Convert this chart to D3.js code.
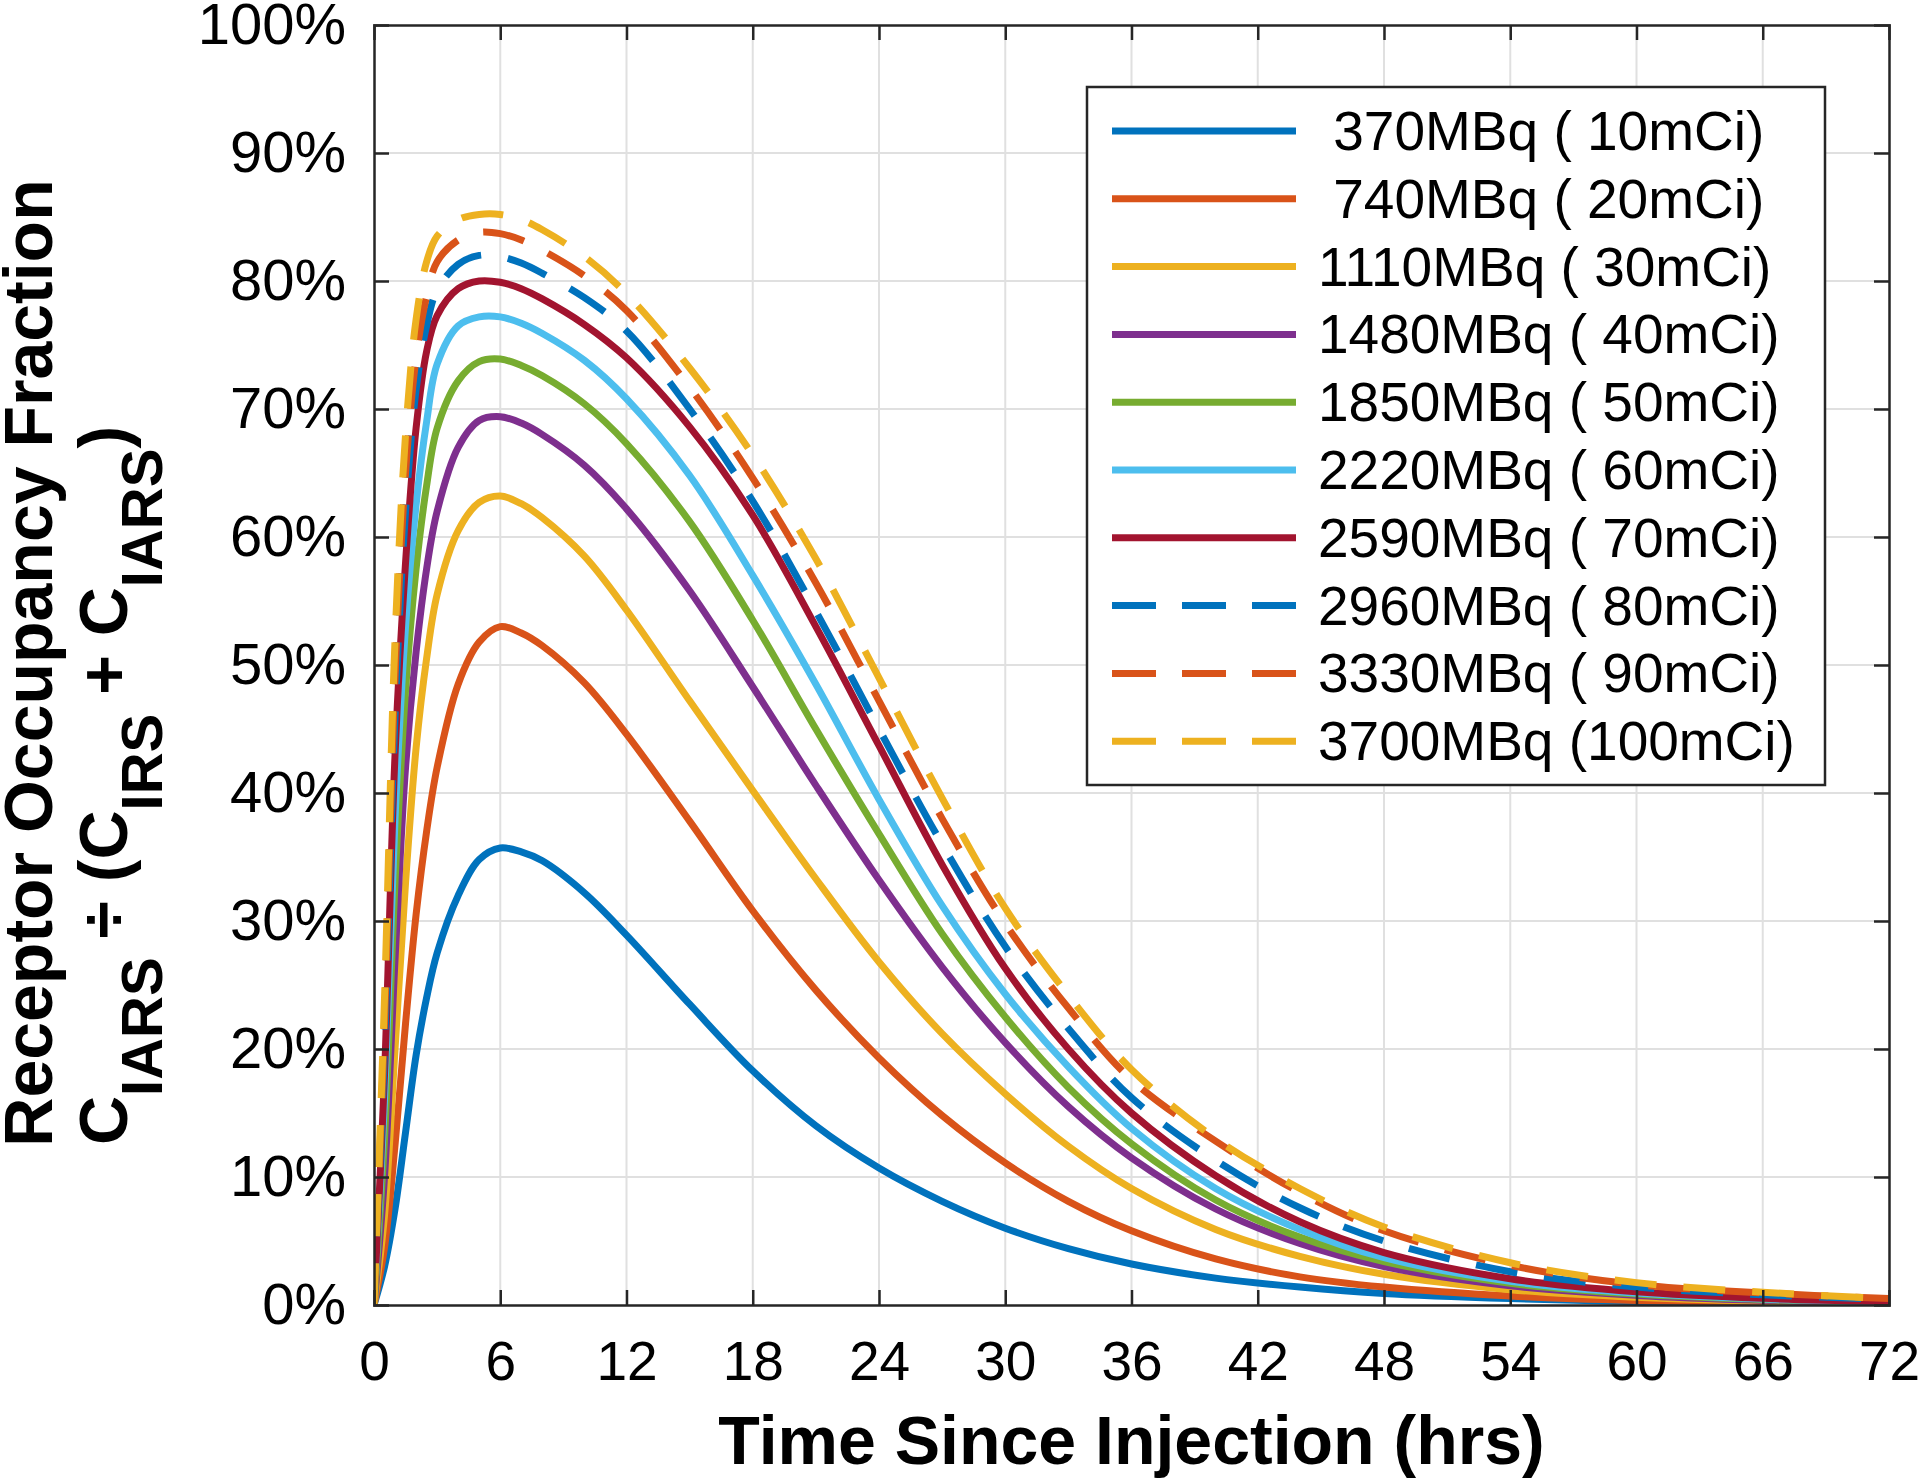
<!DOCTYPE html>
<html><head><meta charset="utf-8">
<script src="https://cdn.jsdelivr.net/npm/d3@7"></script>
<style>
body{margin:0;background:#fff;}
svg{display:block;}
text{font-family:"Liberation Sans",Arial,Helvetica,sans-serif;fill:#000;}
</style>
</head><body>
<svg id="chart" width="1920" height="1482"></svg>
<script>
// ---- data ----
const times = [0, 0.5, 1, 1.5, 2, 2.5, 3, 4, 5, 6, 7, 8, 10, 12, 15, 18, 21, 24, 27, 30, 33, 36, 40, 44, 48, 54, 60, 66, 72];
const seriesLabels = [" 370MBq ( 10mCi)", " 740MBq ( 20mCi)", "1110MBq ( 30mCi)", "1480MBq ( 40mCi)", "1850MBq ( 50mCi)",
  "2220MBq ( 60mCi)", "2590MBq ( 70mCi)", "2960MBq ( 80mCi)", "3330MBq ( 90mCi)", "3700MBq (100mCi)"];
const s10  = [0, 3, 7.5, 13.5, 19.5, 24, 27.5, 32, 34.8, 35.7, 35.4, 34.7, 32.2, 28.9, 23.5, 18.3, 14, 10.7, 8.1, 6, 4.4, 3.2, 2.1, 1.4, 0.9, 0.5, 0.25, 0.12, 0.06];
const s20  = [0, 4.5, 12.5, 22, 30.5, 37, 42, 48.5, 51.8, 53, 52.5, 51.5, 48.6, 44.6, 37.8, 30.8, 24.6, 19.3, 14.8, 11.1, 8.1, 5.8, 3.6, 2.2, 1.4, 0.7, 0.35, 0.18, 0.09];
const s30  = [0, 7, 20, 33, 43.5, 50.5, 55.5, 60.5, 62.7, 63.2, 62.6, 61.5, 58.5, 54.3, 47.2, 40.2, 33.3, 26.8, 21.2, 16.5, 12.4, 9.1, 5.9, 3.8, 2.4, 1.2, 0.6, 0.3, 0.15];
const s40  = [0, 10, 27, 42, 51, 57.5, 62, 67, 69.1, 69.4, 68.9, 68, 65.6, 62.2, 55.8, 48.3, 40.6, 33.2, 26.4, 20.5, 15.5, 11.5, 7.5, 4.8, 3, 1.5, 0.75, 0.37, 0.18];
const s50  = [0, 13, 33, 48, 57.5, 64, 68.5, 72.2, 73.7, 73.9, 73.4, 72.6, 70.4, 67.3, 61.2, 53.5, 45, 36.8, 29, 22.5, 17, 12.6, 8.2, 5.3, 3.4, 1.7, 0.85, 0.42, 0.21];
const s60  = [0, 16, 38, 53, 62.5, 69, 73.5, 76.5, 77.2, 77.2, 76.7, 75.9, 73.8, 70.8, 64.8, 57, 48.5, 39.5, 31.2, 24.3, 18.6, 13.8, 9.1, 5.9, 3.7, 1.85, 0.93, 0.46, 0.23];
const s70  = [0, 18, 43, 58, 68.5, 74.5, 77.3, 79.4, 80, 79.9, 79.4, 78.6, 76.6, 74, 68.6, 61.7, 53, 43.7, 34.4, 26.3, 20, 15, 10.1, 6.5, 4.1, 2.05, 1.03, 0.52, 0.26];
const s80  = [0, 20, 46, 62, 71.5, 76.5, 79.3, 81.3, 82, 81.9, 81.4, 80.6, 78.7, 76.1, 70, 62.8, 54.2, 45, 36, 28, 21.6, 16.2, 11.3, 7.6, 5, 2.6, 1.4, 0.8, 0.45];
const s90  = [0, 22, 49, 65, 74, 78.8, 81.5, 83.2, 83.8, 83.7, 83.2, 82.4, 80.4, 77.7, 71.7, 64.6, 56.4, 47.2, 38, 29.8, 23.2, 17.6, 12.8, 8.8, 5.8, 3.1, 1.6, 0.95, 0.5];
const s100 = [0, 24, 52, 68, 77, 81.5, 83.5, 84.8, 85.2, 85.2, 84.8, 84, 81.9, 79, 73.2, 66.4, 58.3, 49, 39.6, 31, 24.2, 18.4, 13, 9.1, 6.1, 3.3, 1.75, 1.0, 0.5];
const seriesValues = [s10, s20, s30, s40, s50, s60, s70, s80, s90, s100];
const seriesColors = ["#0072BD", "#D95319", "#EDB120", "#7E2F8E", "#77AC30", "#4DBEEE", "#A2142F", "#0072BD", "#D95319", "#EDB120"];
const seriesDashed = [false, false, false, false, false, false, false, true, true, true];
const xTicks = [0, 6, 12, 18, 24, 30, 36, 42, 48, 54, 60, 66, 72];
const yTicks = [0, 10, 20, 30, 40, 50, 60, 70, 80, 90, 100];
const yTickLabels = ["0%", "10%", "20%", "30%", "40%", "50%", "60%", "70%", "80%", "90%", "100%"];
const xTitle = "Time Since Injection (hrs)";
const yTitle1 = "Receptor Occupancy Fraction";

// ---- layout ----
const L = 374, R = 1889, T = 25, B = 1305;
const svg = d3.select("#chart");
const x = d3.scaleLinear().domain([0, 72]).range([L, R]);
const y = d3.scaleLinear().domain([0, 100]).range([B, T]);
const axisColor = "#262626";

// grid
const grid = svg.append("g");
grid.selectAll("line.gx").data(xTicks.slice(1, -1)).join("line")
  .attr("x1", d => x(d)).attr("x2", d => x(d)).attr("y1", T).attr("y2", B)
  .attr("stroke", "#e0e0e0").attr("stroke-width", 2);
grid.selectAll("line.gy").data(yTicks.slice(1, -1)).join("line")
  .attr("y1", d => y(d)).attr("y2", d => y(d)).attr("x1", L).attr("x2", R)
  .attr("stroke", "#e0e0e0").attr("stroke-width", 2);

// curves
svg.append("defs").append("clipPath").attr("id", "clip")
  .append("rect").attr("x", L).attr("y", T - 2).attr("width", R - L).attr("height", B - T + 2);
const line = d3.line().x((d, i) => x(times[i])).y(d => y(d)).curve(d3.curveCatmullRom.alpha(0.5));
const curves = svg.append("g").attr("clip-path", "url(#clip)");
seriesValues.forEach((vals, k) => {
  curves.append("path").attr("d", line(vals)).attr("fill", "none")
    .attr("stroke", seriesColors[k]).attr("stroke-width", 7)
    .attr("stroke-linejoin", "round")
    .attr("stroke-dasharray", seriesDashed[k] ? "42,27" : null);
});

// axes (box + ticks inward)
const axG = svg.append("g");
const tickLen = 15;
const xAxisB = d3.axisBottom(x).tickValues(xTicks).tickSize(-tickLen).tickPadding(36).tickFormat(d3.format("d"));
const gxb = axG.append("g").attr("transform", `translate(0,${B})`).call(xAxisB);
gxb.selectAll("text").attr("font-size", 55).attr("fill", "#000").attr("dy", "0.71em");
const xAxisT = d3.axisTop(x).tickValues(xTicks).tickSize(-tickLen).tickFormat("");
axG.append("g").attr("transform", `translate(0,${T})`).call(xAxisT);
const yAxisL = d3.axisLeft(y).tickValues(yTicks).tickSize(-tickLen).tickPadding(28).tickFormat((d, i) => yTickLabels[i]);
const gyl = axG.append("g").attr("transform", `translate(${L},0)`).call(yAxisL);
gyl.selectAll("text").attr("font-size", 58).attr("fill", "#000");
const yAxisR = d3.axisRight(y).tickValues(yTicks).tickSize(-tickLen).tickFormat("");
axG.append("g").attr("transform", `translate(${R},0)`).call(yAxisR);
axG.selectAll(".domain").attr("stroke", axisColor).attr("stroke-width", 2.5);
axG.selectAll(".tick line").attr("stroke", axisColor).attr("stroke-width", 2.5);
axG.selectAll(".tick line").filter(d => d === 0 || d === 72 || d === 100).attr("stroke-opacity", 0);

// legend
const lg = svg.append("g");
const LX = 1087, LY = 87, LW = 738, LH = 698, rowH = 67.8, row0 = 131;
lg.append("rect").attr("x", LX).attr("y", LY).attr("width", LW).attr("height", LH)
  .attr("fill", "#fff").attr("stroke", axisColor).attr("stroke-width", 2.5);
seriesLabels.forEach((lab, k) => {
  const cy = row0 + k * rowH;
  lg.append("line").attr("x1", 1112).attr("x2", 1296).attr("y1", cy).attr("y2", cy)
    .attr("stroke", seriesColors[k]).attr("stroke-width", 7)
    .attr("stroke-dasharray", seriesDashed[k] ? "44,26" : null);
  lg.append("text").attr("x", 1318).attr("y", cy + 19).attr("font-size", 55)
    .style("white-space", "pre").attr("xml:space", "preserve").text(lab);
});

// titles
svg.append("text").attr("x", (L + R) / 2).attr("y", 1464).attr("text-anchor", "middle")
  .attr("font-size", 68).attr("font-weight", "bold").text(xTitle);
svg.append("text").attr("transform", "translate(52,663) rotate(-90)").attr("text-anchor", "middle")
  .attr("font-size", 68).attr("font-weight", "bold").text(yTitle1);
const t2 = svg.append("text").attr("transform", "translate(127,1145) rotate(-90)")
  .attr("font-size", 68).attr("font-weight", "bold").style("white-space", "pre").attr("xml:space", "preserve");
const parts = [["C", 0], ["IARS", 1], [" \u00F7 (C", 0], ["IRS", 1], [" + C", 0], ["IARS", 1], [")", 0]];
let prevSub = 0;
parts.forEach(([s, sub]) => {
  const shift = 35;
  const dy = sub && !prevSub ? shift : (!sub && prevSub ? -shift : 0);
  t2.append("tspan").attr("dy", dy).attr("font-size", sub ? 58 : 68).text(s);
  prevSub = sub;
});
</script>
</body></html>
